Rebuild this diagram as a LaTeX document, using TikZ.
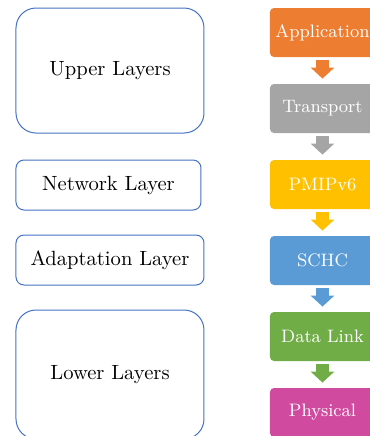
\documentclass[tikz,border=0pt]{standalone}
\usetikzlibrary{arrows.meta}

\definecolor{layerblue}{RGB}{68,114,196}
\definecolor{appcol}{RGB}{237,125,49}
\definecolor{transcol}{RGB}{165,165,165}
\definecolor{pmipcol}{RGB}{255,192,0}
\definecolor{schccol}{RGB}{91,155,213}
\definecolor{linkcol}{RGB}{112,173,71}
\definecolor{phycol}{RGB}{208,74,159}

\tikzset{
    layer/.style={draw=layerblue, line width=0.5pt, inner sep=0pt,
        font=\fontsize{10.3}{12}\selectfont},
    proto/.style={fill=#1, text=white, rounded corners=2pt, inner sep=0pt,
        minimum width=52.5pt, minimum height=24.5pt, font=\fontsize{9}{11}\selectfont},
    flow/.style={draw=#1, line width=6.5pt, -{Triangle[width=11.5pt,length=5.5pt]}}
}

\begin{document}
\begin{tikzpicture}[x=0.5pt, y=-0.5pt]
    \useasboundingbox (0,0) rectangle (370,436);

    % left column
    \node[layer, rounded corners=10pt, minimum width=94pt, minimum height=62.5pt] (upper) at (110, 70.5) {Upper Layers};
    \node[layer, rounded corners=4pt, minimum width=92.5pt, minimum height=25pt] (network) at (108.5, 185) {Network Layer};
    \node[layer, rounded corners=4pt, minimum width=94pt, minimum height=25pt] (adapt) at (110, 260) {Adaptation Layer};
    \node[layer, rounded corners=10pt, minimum width=94pt, minimum height=64.5pt] (lower) at (110, 374.5) {Lower Layers};

    % right column
    \node[proto=appcol] (app) at (322.5, 32.5) {Application};
    \node[proto=transcol] (trans) at (322.5, 108.5) {Transport};
    \node[proto=pmipcol] (pmip) at (322.5, 184.5) {PMIPv6};
    \node[proto=schccol] (schc) at (322.5, 260.5) {SCHC};
    \node[proto=linkcol] (link) at (322.5, 336.5) {Data Link};
    \node[proto=phycol] (phy) at (322.5, 412.5) {Physical};

    \draw[flow=appcol] ([yshift=-1.5pt]app.south) -- ([yshift=2.5pt]trans.north);
    \draw[flow=transcol] ([yshift=-1.5pt]trans.south) -- ([yshift=2.5pt]pmip.north);
    \draw[flow=pmipcol] ([yshift=-1.5pt]pmip.south) -- ([yshift=2.5pt]schc.north);
    \draw[flow=schccol] ([yshift=-1.5pt]schc.south) -- ([yshift=2.5pt]link.north);
    \draw[flow=linkcol] ([yshift=-1.5pt]link.south) -- ([yshift=2.5pt]phy.north);
\end{tikzpicture}
\end{document}
